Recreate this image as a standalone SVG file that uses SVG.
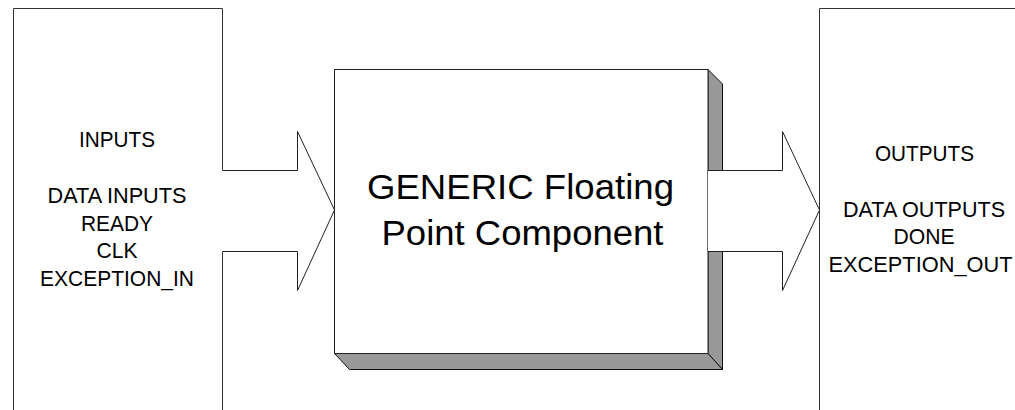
<svg xmlns="http://www.w3.org/2000/svg" width="1015" height="410" viewBox="0 0 1015 410">
  <style>
    .edge { fill: none; stroke: #333; stroke-width: 1; }
    .face { fill: #ffffff; stroke: #222; stroke-width: 1; }
    .shade { fill: #999999; stroke: #111; stroke-width: 1; stroke-linejoin: miter; }
    .side { font-family: "Liberation Sans", Arial, sans-serif; font-size: 22px; fill: #000; text-anchor: middle; }
    .title { font-family: "Liberation Sans", Arial, sans-serif; font-size: 35px; fill: #000; text-anchor: middle; }
  </style>
  <rect width="1015" height="410" fill="#ffffff"/>

  <!-- input block, open at the bottom -->
  <g id="inputs">
    <path class="edge" d="M222.5,170.5 V8.5 H13.5 V411 M222.5,251.5 V411"/>
    <text class="side" x="117" y="147" textLength="76" lengthAdjust="spacingAndGlyphs">INPUTS</text>
    <text class="side" x="117" y="203" textLength="139" lengthAdjust="spacingAndGlyphs">DATA INPUTS</text>
    <text class="side" x="117" y="230.5" textLength="72" lengthAdjust="spacingAndGlyphs">READY</text>
    <text class="side" x="117" y="258" textLength="41" lengthAdjust="spacingAndGlyphs">CLK</text>
    <text class="side" x="117" y="285.5" textLength="154" lengthAdjust="spacingAndGlyphs">EXCEPTION_IN</text>
  </g>

  <!-- central component with bevelled depth -->
  <g id="component">
    <polygon class="shade" points="708,69.5 722.5,84 722.5,170.5 708,170.5"/>
    <polygon class="shade" points="708,251.5 722.5,251.5 722.5,369.5 708,353.5"/>
    <polygon class="shade" points="334.5,353.5 349.5,369.5 722.5,369.5 708,353.5"/>
    <rect class="face" x="334.5" y="69.5" width="373.5" height="284"/>
    <text class="title" x="520.5" y="198.5" textLength="307" lengthAdjust="spacingAndGlyphs">GENERIC Floating</text>
    <text class="title" x="522.5" y="245" textLength="282" lengthAdjust="spacingAndGlyphs">Point Component</text>
  </g>

  <!-- output block, open to the right and bottom -->
  <g id="outputs">
    <path class="edge" d="M1016,8.5 H819.5 V411"/>
    <text class="side" x="924.5" y="160.5" textLength="99" lengthAdjust="spacingAndGlyphs">OUTPUTS</text>
    <text class="side" x="924" y="216.5" textLength="162" lengthAdjust="spacingAndGlyphs">DATA OUTPUTS</text>
    <text class="side" x="924" y="244" textLength="61" lengthAdjust="spacingAndGlyphs">DONE</text>
    <text class="side" x="920.5" y="272" textLength="184" lengthAdjust="spacingAndGlyphs">EXCEPTION_OUT</text>
  </g>

  <!-- block arrows between the stages -->
  <g id="connectors">
    <path class="face" d="M222.5,170.5 H297.5 V131.5 L334.5,210 L297.5,290.5 V251.5 H222.5 Z" stroke-linejoin="miter"/>
    <path class="face" d="M708,170.5 H782.5 V131.5 L819.5,210 L782.5,290.5 V251.5 H708 Z"/>
    <path d="M222.5,170.8 V251.2 M708.5,171 V251" stroke="#fff" stroke-width="1.2"/>
  </g>
</svg>
